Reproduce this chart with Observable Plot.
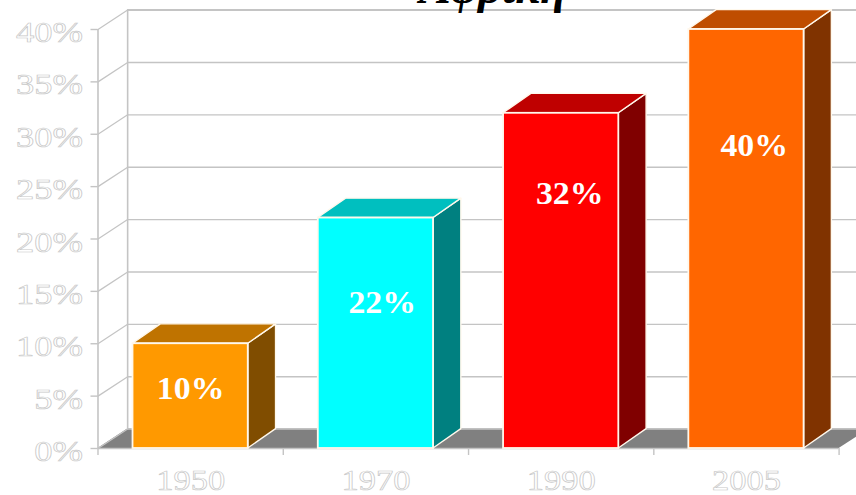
<!DOCTYPE html>
<html>
<head>
<meta charset="utf-8">
<script src="https://cdn.jsdelivr.net/npm/d3@7"></script>
<script src="https://cdn.jsdelivr.net/npm/@observablehq/plot@0.6"></script>
<style>
html,body{margin:0;padding:0;background:#fff;overflow:hidden}
svg{display:block}
</style>
</head>
<body>
<div id="chart"></div>
<script>
const categories = ["1950", "1970", "1990", "2005"];
const values = [10, 22, 32, 40];
const labels = ["10%", "22%", "32%", "40%"];
const labelHeights = [5.7, 13.9, 24.3, 28.9];
const labelCenters = [0.5, 1.534, 2.546, 3.542];
const frontColors = ["#FF9900", "#00FFFF", "#FF0000", "#FF6600"];
const topColors = ["#BF7300", "#00BFBF", "#BF0000", "#BF4D00"];
const sideColors = ["#804D00", "#008080", "#800000", "#803300"];
const yTicks = [0, 5, 10, 15, 20, 25, 30, 35, 40];
const titleText = "Αφρική";

// 3-D projection offsets, in data units
const wallDx = 0.16, barDx = 0.15, dy = 1.85, half = 0.311;
const xMax = categories.length;
const grid = "#c4c4c4", edge = "#fff8ec";

const bars = categories.map((c, i) => ({c, i, v: values[i], l: i + 0.5 - half, r: i + 0.5 + half}));
const serif = "'Liberation Serif','Times New Roman',serif";

const marks = [
  // floor
  Plot.areaX([{y: 0, a: 0, b: xMax}, {y: dy, a: wallDx, b: xMax + wallDx}], {y: "y", x1: "a", x2: "b", fill: "#808080"}),
  // back wall grid
  Plot.ruleY(yTicks.map(t => t + dy), {x1: wallDx, x2: xMax + wallDx, stroke: grid, strokeWidth: 1.4}),
  Plot.ruleY([40 + dy], {x1: wallDx, x2: xMax + wallDx, stroke: grid, strokeWidth: 2}),
  Plot.ruleX([wallDx], {y1: dy, y2: 40 + dy, stroke: grid, strokeWidth: 1.6}),
  // side wall
  ...yTicks.map(t => Plot.line([[0, t], [wallDx, t + dy]], {stroke: grid, strokeWidth: 1.2})),
  Plot.ruleX([0], {y1: 0, y2: 40, stroke: grid, strokeWidth: 1.6}),
  // base line
  Plot.ruleY([0], {x1: 0, x2: xMax, stroke: grid, strokeWidth: 1.6}),
  // axes
  Plot.axisY({ticks: yTicks, tickFormat: () => "", tickSize: 7, stroke: grid, strokeWidth: 1.4, label: null}),
  Plot.axisY({ticks: yTicks, tickFormat: d => d + "%", tickSize: 0, tickPadding: 15, dy: 3,
    fontSize: 30, fontFamily: serif, label: null}),
  Plot.axisX({ticks: d3.range(0, xMax + 1), tickFormat: () => "", tickSize: 7, stroke: grid, strokeWidth: 1.4, label: null}),
  Plot.axisX({ticks: categories.map((c, i) => i + 0.5), tickFormat: d => categories[d - 0.5], tickSize: 0, tickPadding: 20,
    fontSize: 30, fontFamily: serif, label: null}),
  // bars
  ...bars.flatMap(b => [
    Plot.areaY([{x: b.r, a: 0, z: b.v}, {x: b.r + barDx, a: dy, z: b.v + dy}], {x: "x", y1: "a", y2: "z", fill: sideColors[b.i], stroke: edge, strokeWidth: 1.4, strokeLinejoin: "round"}),
    Plot.areaX([{y: b.v, a: b.l, z: b.r}, {y: b.v + dy, a: b.l + barDx, z: b.r + barDx}], {y: "y", x1: "a", x2: "z", fill: topColors[b.i], stroke: edge, strokeWidth: 1.4, strokeLinejoin: "round"}),
    Plot.rect([b], {x1: "l", x2: "r", y1: 0, y2: "v", fill: frontColors[b.i], stroke: edge, strokeWidth: 1.8})
  ]),
  // value labels
  Plot.text(bars, {x: d => labelCenters[d.i], y: d => labelHeights[d.i], text: d => labels[d.i], fill: "#fff", fontSize: 31, fontWeight: "bold", fontFamily: serif}),
  // clipped title
  Plot.text([titleText], {x: 2.13, y: 43.95, text: d => d, fill: "#000", fontSize: 47, fontWeight: "bold", fontStyle: "italic", fontFamily: serif})
];

const plot = Plot.plot({
  width: 856,
  height: 495,
  marginTop: 29,
  marginBottom: 47,
  marginLeft: 97.5,
  marginRight: 17.4,
  x: {domain: [0, xMax], axis: null},
  y: {domain: [0, 40], axis: null},
  style: {background: "#fff", overflow: "hidden"},
  marks
});
document.getElementById("chart").appendChild(plot);

// outlined, slightly widened tick labels; widened value labels
const outline = (selector, stretch) => plot.querySelectorAll(selector).forEach(g => {
  g.style.paintOrder = "normal";
  g.setAttribute("fill", "#fff");
  g.setAttribute("stroke", "#c8c8c8");
  g.setAttribute("stroke-width", "0.7");
  g.querySelectorAll("text").forEach(t => {
    t.style.paintOrder = "normal";
    t.setAttribute("fill", "#fff");
    t.setAttribute("stroke", "#c8c8c8");
    t.setAttribute("stroke-width", "0.7");
    const w = t.getComputedTextLength();
    if (w > 0) {
      t.setAttribute("textLength", w * stretch);
      t.setAttribute("lengthAdjust", "spacingAndGlyphs");
    }
  });
});
outline('[aria-label="y-axis tick label"]', 1.22);
outline('[aria-label="x-axis tick label"]', 1.15);
plot.querySelectorAll('[aria-label="text"] text').forEach(t => {
  if (labels.includes(t.textContent)) {
    t.setAttribute("textLength", t.getComputedTextLength() * 1.09);
    t.setAttribute("lengthAdjust", "spacingAndGlyphs");
  }
});
</script>
</body>
</html>
